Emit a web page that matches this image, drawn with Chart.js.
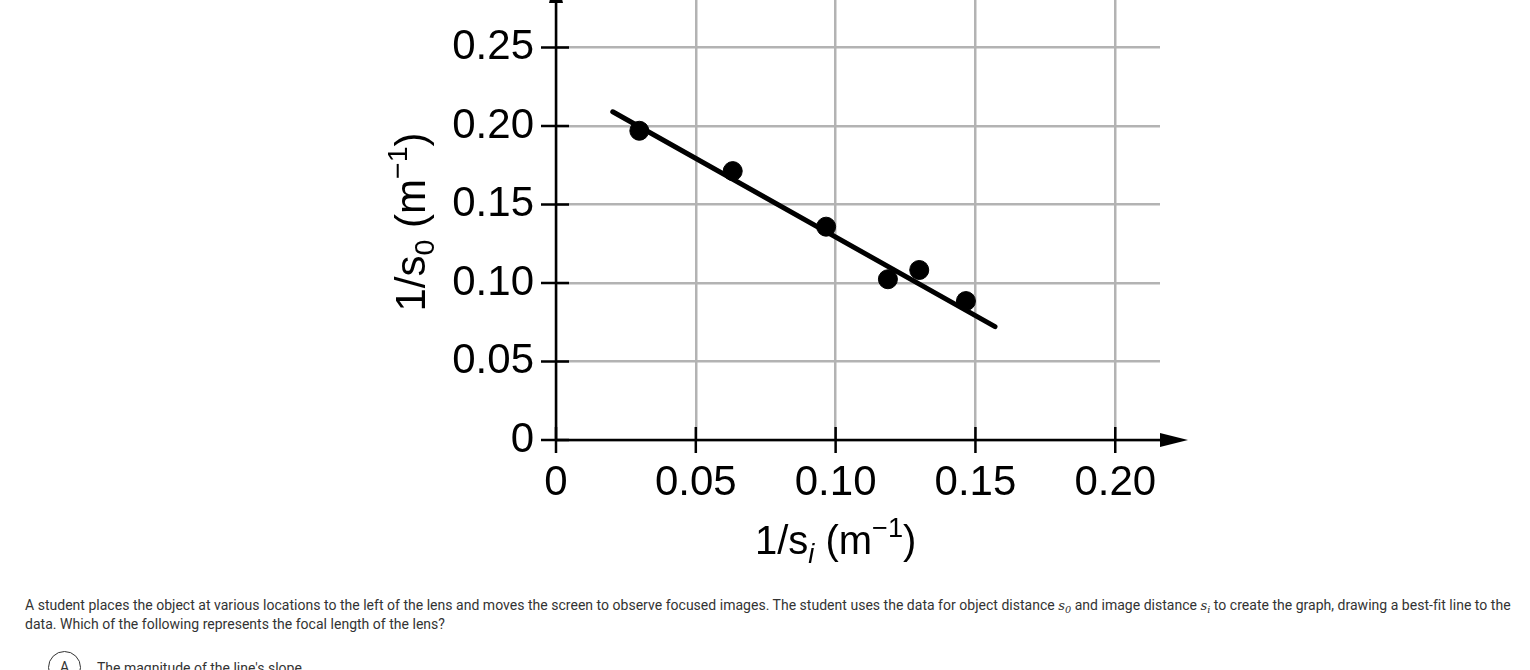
<!DOCTYPE html>
<html>
<head>
<meta charset="utf-8">
<script src="https://cdn.jsdelivr.net/npm/chart.js@4"></script>
<style>
  body { margin: 0; background: #fff; width: 1530px; height: 670px; overflow: hidden; position: relative; }
  .chart-box { position: absolute; left: 0; top: 0; width: 1530px; height: 580px; }
  .question { position: absolute; left: 25px; top: 596px; width: 1505px; font: 14px/18px Roboto, sans-serif; color: #333; letter-spacing: 0.02px; white-space: nowrap; }
  .question i { font-family: "DejaVu Serif", serif; font-size: 13px; }
  .question sub { vertical-align: baseline; position: relative; top: 0.3em; font-size: 75%; line-height: 0; }
  .option { position: absolute; left: 48px; top: 651px; width: 33px; height: 33px; border: 1.5px solid #333; border-radius: 50%; box-sizing: border-box; text-align: center; font: 14px/30px Roboto, sans-serif; color: #333; }
  .option-text { position: absolute; left: 97px; top: 660px; font: 14px Roboto, sans-serif; color: #333; }
</style>
</head>
<body>
<div class="chart-box"><canvas class="lens-chart"></canvas></div>
<div class="question">A student places the object at various locations to the left of the lens and moves the screen to observe focused images. The student uses the data for object distance <i>s<sub>0</sub></i> and image distance <i>s<sub>i</sub></i> to create the graph, drawing a best-fit line to the<br>data. Which of the following represents the focal length of the lens?</div>
<div class="option">A</div>
<div class="option-text">The magnitude of the line's slope</div>
<script>
// measured points, 1/s_i and 1/s_o
const invSi = [0.0298, 0.0632, 0.0966, 0.1187, 0.1299, 0.1466]
const invSo = [0.197, 0.1713, 0.1359, 0.1024, 0.1083, 0.0885]

// ends of the best-fit line
const fitX = [0.0203, 0.157]
const fitY = [0.2091, 0.0722]

const xTicks = [0, 0.05, 0.10, 0.15, 0.20]
const xTickLabels = ["0", "0.05", "0.10", "0.15", "0.20"]
const yTicks = [0, 0.05, 0.10, 0.15, 0.20, 0.25]
const yTickLabels = ["0", "0.05", "0.10", "0.15", "0.20", "0.25"]

const FONT = "'Liberation Sans', Arial, sans-serif"

// draws a label made of plain / sub / sup pieces
const richText = (ctx, parts, size) => {
    const fontOf = p => (p.italic ? "italic " : "") + (p.t === "n" ? size : size * 0.68) + "px " + FONT
    let w = 0
    parts.forEach(p => {
        ctx.font = fontOf(p)
        w += ctx.measureText(p.s).width
    })
    let x = -w / 2
    parts.forEach(p => {
        ctx.font = fontOf(p)
        const dy = p.t === "sub" ? size * 0.22 : p.t === "sup" ? -size * 0.42 : 0
        ctx.fillText(p.s, x, dy)
        x += ctx.measureText(p.s).width
    })
}

const axesPlugin = {
    id: "axesPlugin",
    afterDraw(chart) {
        const ctx = chart.ctx
        const x = chart.scales.x, y = chart.scales.y
        const x0 = x.getPixelForValue(0), y0 = y.getPixelForValue(0)
        const right = chart.chartArea.right, top = chart.chartArea.top
        ctx.save()
        ctx.strokeStyle = "#000"
        ctx.fillStyle = "#000"
        ctx.lineWidth = 2.5
        // axes
        ctx.beginPath()
        ctx.moveTo(x0, y0); ctx.lineTo(right + 6, y0)
        ctx.moveTo(x0, y0); ctx.lineTo(x0, top - 5)
        ctx.stroke()
        // arrow heads
        ctx.beginPath()
        ctx.moveTo(right + 28, y0); ctx.lineTo(right, y0 - 7); ctx.lineTo(right, y0 + 7); ctx.closePath()
        ctx.fill()
        ctx.beginPath()
        ctx.moveTo(x0, top - 26); ctx.lineTo(x0 - 7, top + 3); ctx.lineTo(x0 + 7, top + 3); ctx.closePath()
        ctx.fill()
        // tick marks across the axes
        ctx.beginPath()
        yTicks.forEach(v => {
            const py = y.getPixelForValue(v)
            ctx.moveTo(x0 - 15, py); ctx.lineTo(x0 + 13, py)
        })
        xTicks.forEach(v => {
            const px = x.getPixelForValue(v)
            ctx.moveTo(px, y0 - 13); ctx.lineTo(px, y0 + 13)
        })
        ctx.stroke()

        // axis titles
        ctx.textBaseline = "alphabetic"
        ctx.save()
        ctx.translate(x.getPixelForValue(0.1), 554)
        richText(ctx, [
            {t: "n", s: "1/s"}, {t: "sub", s: "i", italic: true}, {t: "n", s: " (m"}, {t: "sup", s: "\u22121"}, {t: "n", s: ")"}
        ], 40)
        ctx.restore()
        ctx.save()
        ctx.translate(425, 222)
        ctx.rotate(-Math.PI / 2)
        richText(ctx, [
            {t: "n", s: "1/s"}, {t: "sub", s: "0"}, {t: "n", s: " (m"}, {t: "sup", s: "\u22121"}, {t: "n", s: ")"}
        ], 42)
        ctx.restore()
        ctx.restore()
    }
}

new Chart(document.querySelector(".lens-chart"), {
    type: "scatter",
    data: {
        datasets: [{
            label: "data",
            data: invSi.map((v, i) => ({x: v, y: invSo[i]})),
            backgroundColor: "#000",
            borderColor: "#000",
            pointRadius: 9.5,
            pointHoverRadius: 9.5,
        }, {
            label: "best fit",
            type: "line",
            data: fitX.map((v, i) => ({x: v, y: fitY[i]})),
            borderColor: "#000",
            borderWidth: 5,
            borderCapStyle: "round",
            pointRadius: 0,
            fill: false,
        }]
    },
    options: {
        responsive: true,
        maintainAspectRatio: false,
        animation: false,
        events: [],
        layout: { autoPadding: false, padding: { top: 0, right: 370, left: 0, bottom: 0 } },
        plugins: { legend: { display: false }, tooltip: { enabled: false } },
        scales: {
            x: {
                type: "linear",
                min: 0,
                max: 0.216,
                afterBuildTicks: s => { s.ticks = xTicks.map(v => ({value: v})) },
                afterFit: s => { s.height = 140; s.paddingLeft = 0; s.paddingRight = 0 },
                border: { display: false },
                grid: { color: "#b3b3b3", lineWidth: 2.5, drawTicks: false },
                ticks: {
                    padding: 18,
                    color: "#000",
                    font: { family: FONT, size: 42 },
                    callback: (v, i) => xTickLabels[i],
                    maxRotation: 0,
                    autoSkip: false,
                }
            },
            y: {
                type: "linear",
                min: 0,
                max: 0.2803,
                afterBuildTicks: s => { s.ticks = yTicks.map(v => ({value: v})) },
                afterFit: s => { s.width = 556; s.paddingTop = 0; s.paddingBottom = 0 },
                border: { display: false },
                grid: { color: "#b3b3b3", lineWidth: 2.5, drawTicks: false },
                ticks: {
                    padding: 22,
                    color: "#000",
                    font: { family: FONT, size: 42 },
                    callback: (v, i) => yTickLabels[i],
                    autoSkip: false,
                }
            }
        }
    },
    plugins: [axesPlugin]
})
</script>
</body>
</html>
